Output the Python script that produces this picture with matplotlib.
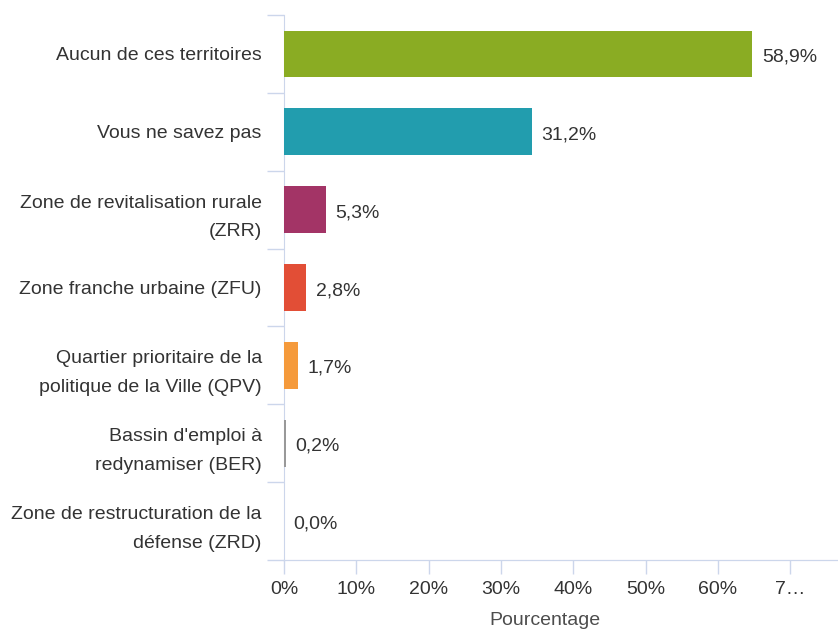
import matplotlib
matplotlib.use("Agg")
import matplotlib.pyplot as plt
from matplotlib.ticker import FixedLocator

plt.rcParams['font.family'] = ['Liberation Sans', 'DejaVu Sans']

categories = [
    "Aucun de ces territoires",
    "Vous ne savez pas",
    "Zone de revitalisation rurale\n(ZRR)",
    "Zone franche urbaine (ZFU)",
    "Quartier prioritaire de la\npolitique de la Ville (QPV)",
    "Bassin d'emploi à\nredynamiser (BER)",
    "Zone de restructuration de la\ndéfense (ZRD)",
]
values = [58.9, 31.2, 5.3, 2.8, 1.7, 0.2, 0.0]
colors = ["#8aac23", "#229dae", "#a33466", "#e24e36", "#f59a3b", "#999999", "#cccccc"]
xticks = [0, 10, 20, 30, 40, 50, 60, 70]
xticklabels = ["0%", "10%", "20%", "30%", "40%", "50%", "60%", "7…"]

W, H = 838, 629
fig = plt.figure(figsize=(W / 100, H / 100), dpi=100)
left, right, top, bottom = 284, 838, 15, 560
ax = fig.add_axes([left / W, 1 - bottom / H, (right - left) / W, (bottom - top) / H])

bar_px = 7.95   # pixels per percent for bars in the reference
tick_px = 7.23  # pixels per percent for axis ticks in the reference
k = bar_px / tick_px

n = len(categories)
ypos = list(range(n))
ax.barh(ypos, values, height=0.6, color=colors, zorder=3)
ax.set_ylim(n - 0.5, -0.5)
ax.set_xlim(0, (right - left) / bar_px)

for y, v in zip(ypos, values):
    ax.text(v + 1.2, y + 0.04, f"{v:.1f}%".replace(".", ","), va="center", ha="left",
            fontsize=14, color="#333333")

ax.set_yticks(ypos)
ax.set_yticklabels(categories, fontsize=14, color="#333333", ha="right", linespacing=1.9)
ax.yaxis.set_minor_locator(FixedLocator([i - 0.5 for i in range(n + 1)]))
ax.tick_params(axis="y", which="major", length=0, pad=16)
ax.tick_params(axis="y", which="minor", length=12, color="#ccd6eb", width=1)

ax.set_xticks([])
sec = ax.secondary_xaxis("bottom", functions=(lambda x: x * k, lambda s: s / k))
sec.set_xticks(xticks)
sec.set_xticklabels(xticklabels, fontsize=14, color="#333333")
sec.tick_params(axis="x", length=10, color="#ccd6eb", width=1, pad=5)
sec.spines["bottom"].set_color("#ccd6eb")
sec.set_xlabel("Pourcentage", fontsize=14, color="#4d4d4d", labelpad=10)
sec.xaxis.label.set_x((545 - left) / (right - left))

for s in ["top", "right"]:
    ax.spines[s].set_visible(False)
ax.spines["left"].set_color("#ccd6eb")
ax.spines["bottom"].set_color("#ccd6eb")

fig.savefig("out.png", dpi=100)
